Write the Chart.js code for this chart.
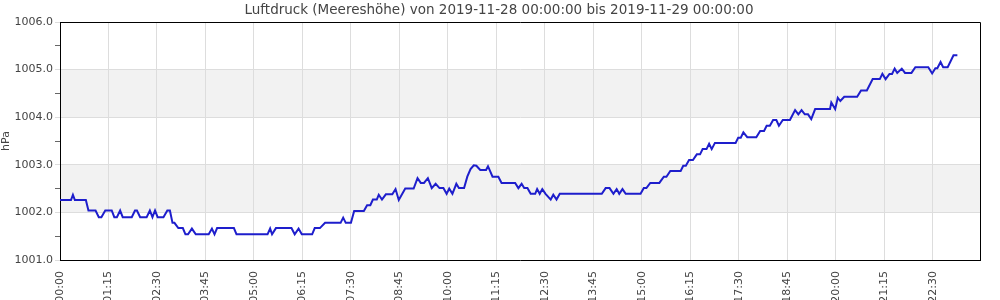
<!DOCTYPE html>
<html>
<head>
<meta charset="utf-8">
<script src="https://cdn.jsdelivr.net/npm/chart.js@4/dist/chart.umd.min.js"></script>
<style>
  html, body { margin: 0; padding: 0; background: #fff; }
  #wrap { width: 1000px; height: 300px; }
</style>
</head>
<body>
<div id="wrap"><canvas id="c" width="1000" height="300"></canvas></div>
<script>
// ---- data (minutes since 2019-11-28 00:00, pressure in hPa) ----
const chartTitle = 'Luftdruck (Meereshöhe) von 2019-11-28 00:00:00 bis 2019-11-29 00:00:00';
const yAxisTitle = 'hPa';

const minutes = [
  0,17,20,23,40,44,55,60,64,70,80,84,88,93,97,111,116,119,124,134,139,143,147,151,160,166,170,174,177,183,190,194,198,204,210,230,235,239,
  243,269,273,321,325,328,334,358,363,369,374,390,394,402,410,434,438,442,450,455,470,
  475,480,484,490,493,498,504,514,519,524,534,547,553,558,563,569,575,581,587,593,598,602,607,613,617,625,630,635,640,644,650,659,662,669,678,683,704,
  709,714,718,723,728,735,738,742,746,751,759,763,768,773,838,844,850,856,861,865,870,875,898,903,907,913,927,
  934,938,944,960,964,968,973,979,985,990,994,1000,1004,1008,1013,1045,1049,1053,1057,1063,1077,1083,1089,1093,1098,1103,1108,1112,1118,1129,1137,1142,1147,1152,1157,1162,
  1168,1191,1193,1199,1203,1207,1213,1233,1239,1248,1257,1268,1272,1277,1283,1287,1291,1295,1302,1307,1317,1323,1343,1349,1354,1357,1362,1366,1373,1382,1388
];
const pressure = [
  1002.26,1002.26,1002.37,1002.26,1002.26,1002.04,1002.04,1001.90,1001.90,1002.04,1002.04,1001.90,1001.90,1002.04,1001.90,1001.90,1002.04,1002.04,1001.90,1001.90,1002.04,1001.90,1002.04,1001.90,1001.90,1002.04,1002.04,1001.78,1001.78,1001.67,1001.67,1001.54,1001.54,1001.66,1001.54,1001.54,1001.66,1001.54,
  1001.67,1001.67,1001.54,1001.54,1001.66,1001.54,1001.67,1001.67,1001.54,1001.66,1001.54,1001.54,1001.67,1001.67,1001.78,1001.78,1001.89,1001.78,1001.78,1002.03,1002.03,
  1002.15,1002.15,1002.27,1002.27,1002.37,1002.27,1002.38,1002.38,1002.49,1002.26,1002.50,1002.50,1002.72,1002.62,1002.62,1002.72,1002.51,1002.60,1002.51,1002.51,1002.39,1002.50,1002.39,1002.60,1002.51,1002.51,1002.75,1002.91,1002.99,1002.98,1002.89,1002.89,1002.97,1002.75,1002.75,1002.62,1002.62,
  1002.51,1002.60,1002.51,1002.51,1002.39,1002.39,1002.49,1002.39,1002.49,1002.39,1002.27,1002.37,1002.27,1002.39,1002.39,1002.51,1002.51,1002.39,1002.49,1002.39,1002.49,1002.39,1002.39,1002.51,1002.51,1002.62,1002.62,
  1002.75,1002.75,1002.87,1002.87,1002.98,1002.98,1003.10,1003.10,1003.22,1003.22,1003.33,1003.33,1003.44,1003.33,1003.46,1003.46,1003.57,1003.57,1003.68,1003.58,1003.58,1003.71,1003.71,1003.82,1003.82,1003.94,1003.94,1003.82,1003.94,1003.94,1004.15,1004.06,1004.15,1004.06,1004.06,1003.96,
  1004.17,1004.17,1004.31,1004.17,1004.41,1004.34,1004.43,1004.43,1004.56,1004.56,1004.80,1004.80,1004.91,1004.80,1004.91,1004.91,1005.02,1004.93,1005.02,1004.93,1004.93,1005.05,1005.05,1004.92,1005.03,1005.03,1005.16,1005.05,1005.05,1005.30,1005.30
];

const xTickLabels = ['00:00','01:15','02:30','03:45','05:00','06:15','07:30','08:45','10:00','11:15','12:30','13:45','15:00','16:15','17:30','18:45','20:00','21:15','22:30'];
const xTickStep = 75;        // minutes between labelled ticks
const xMax = 1423;           // right end of the time axis (minutes)
const yMin = 1001, yMax = 1006;
const yTicks = [1001,1001.5,1002,1002.5,1003,1003.5,1004,1004.5,1005,1005.5,1006];
const bands = [[1002,1003],[1004,1005]];

const font = 'DejaVu Sans';

// ---- plugins ----
const bandPlugin = {
  id: 'bands',
  beforeDraw(chart) {
    const {ctx, chartArea: a, scales: {y}} = chart;
    ctx.save();
    ctx.fillStyle = '#f2f2f2';
    bands.forEach(([lo, hi]) => {
      const t = y.getPixelForValue(hi), b = y.getPixelForValue(lo);
      ctx.fillRect(a.left, t, a.right - a.left, b - t);
    });
    ctx.restore();
  }
};
const framePlugin = {
  id: 'frame',
  afterDraw(chart) {
    const {ctx, chartArea: a} = chart;
    ctx.save();
    ctx.strokeStyle = '#000';
    ctx.lineWidth = 1;
    ctx.beginPath();
    ctx.moveTo(Math.round(a.left) + 0.5, Math.round(a.top) + 0.5);
    ctx.lineTo(Math.round(a.right) + 0.5, Math.round(a.top) + 0.5);
    ctx.lineTo(Math.round(a.right) + 0.5, Math.round(a.bottom) + 0.5);
    ctx.stroke();
    // title, centred on the whole canvas
    ctx.fillStyle = '#444';
    ctx.font = '13.5px "' + font + '"';
    ctx.textAlign = 'center';
    ctx.textBaseline = 'middle';
    ctx.fillText(chartTitle, chart.width / 2 - 1, 10.5);
    ctx.restore();
  }
};

new Chart(document.getElementById('c'), {
  type: 'line',
  data: {
    datasets: [{
      data: minutes.map((m, i) => ({x: m, y: pressure[i]})),
      borderColor: '#1e1ecc',
      borderWidth: 2,
      pointRadius: 0,
      tension: 0,
      fill: false
    }]
  },
  options: {
    responsive: false,
    animation: false,
    layout: { padding: { left: 0, right: 20, top: 22, bottom: 0 } },
    plugins: {
      legend: { display: false },
      tooltip: { enabled: false },
      title: { display: false }
    },
    scales: {
      x: {
        type: 'linear',
        min: 0,
        max: xMax,
        afterBuildTicks(scale) {
          scale.ticks = xTickLabels.map((_, i) => ({ value: i * xTickStep }));
        },
        afterFit(scale) { scale.height = 40; },
        ticks: {
          autoSkip: false,
          maxRotation: 90,
          minRotation: 90,
          padding: 11,
          color: '#444',
          font: { family: font, size: 11 },
          callback: (v) => xTickLabels[Math.round(v / xTickStep)]
        },
        grid: { color: '#dddddd', drawTicks: false },
        border: { color: '#000', width: 1 }
      },
      y: {
        type: 'linear',
        min: yMin,
        max: yMax,
        afterBuildTicks(scale) {
          scale.ticks = yTicks.map(v => ({ value: v }));
        },
        afterFit(scale) { scale.width = 60; },
        title: {
          display: true,
          text: yAxisTitle,
          color: '#444',
          font: { family: font, size: 11 },
          padding: 0
        },
        ticks: {
          color: '#444',
          padding: 2,
          font: { family: font, size: 11 },
          callback: (v) => Number.isInteger(v) ? v.toFixed(1) : ''
        },
        grid: {
          color: (c) => (c.tick && c.tick.value % 1 !== 0) ? 'rgba(0,0,0,0)' : '#dddddd',
          tickColor: (c) => (c.tick && c.tick.value % 1 !== 0) ? '#666' : '#dddddd',
          tickLength: 5
        },
        border: { color: '#000', width: 1 }
      }
    }
  },
  plugins: [bandPlugin, framePlugin]
});
</script>
</body>
</html>
